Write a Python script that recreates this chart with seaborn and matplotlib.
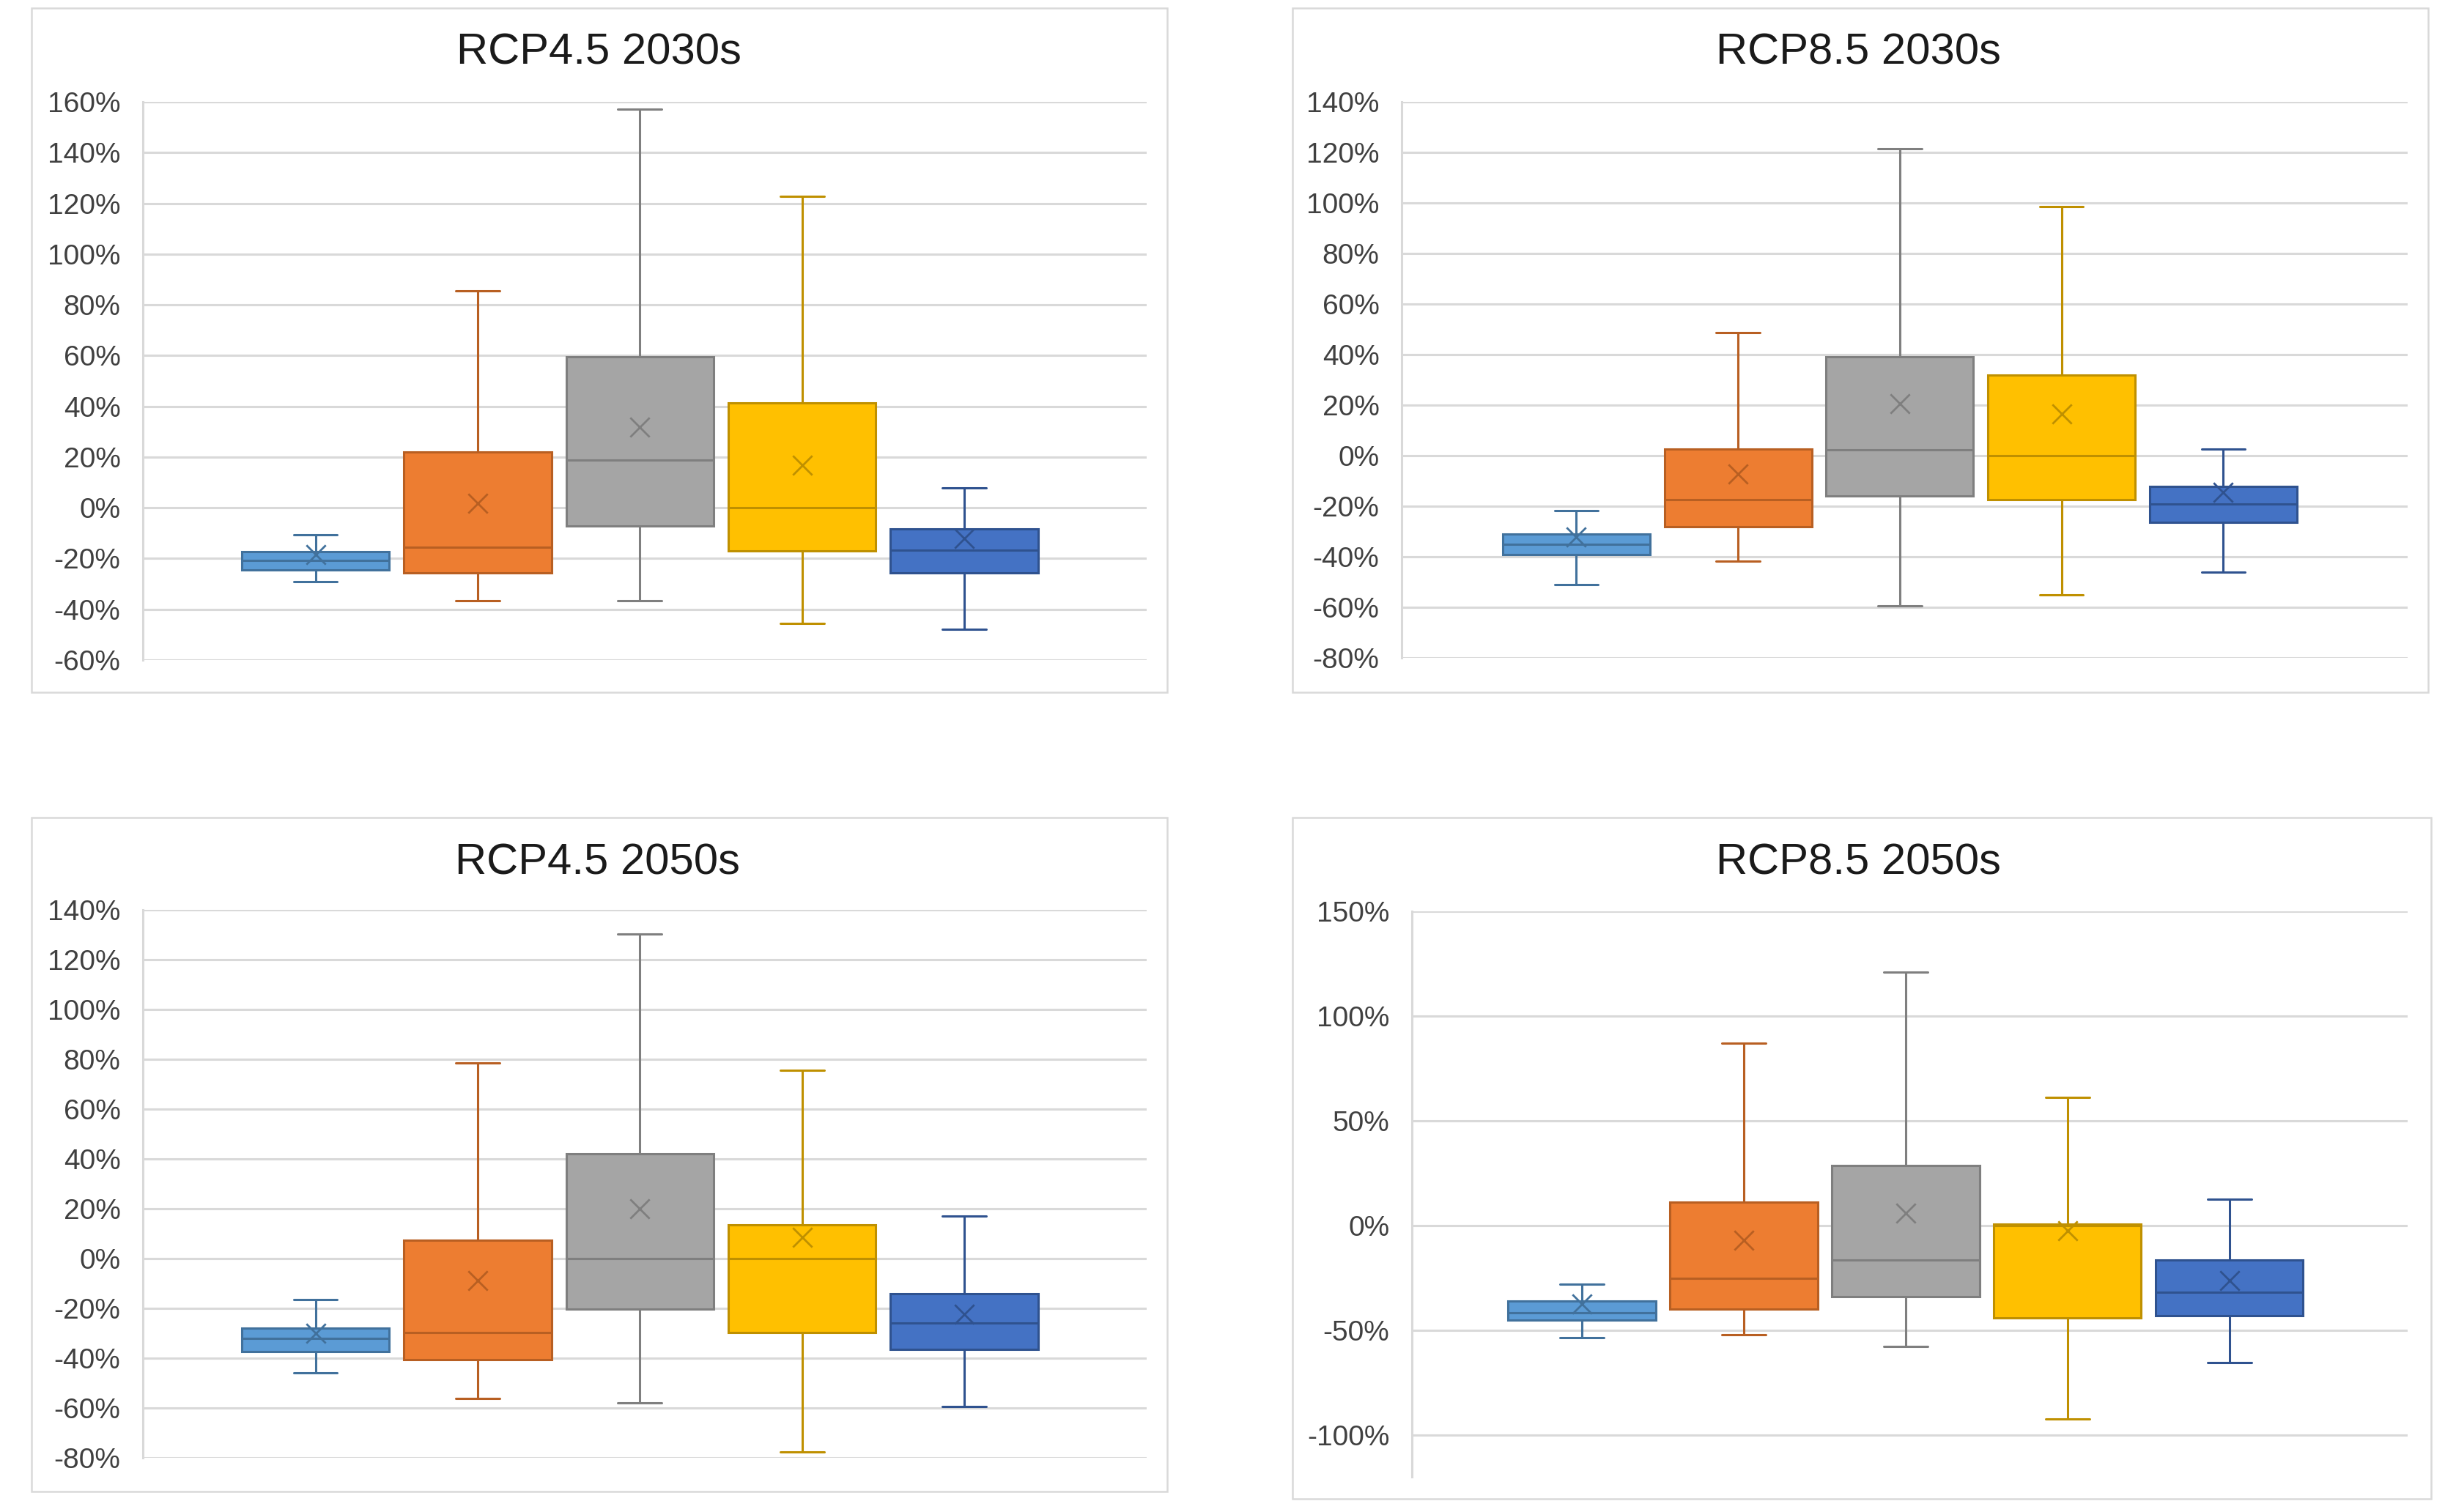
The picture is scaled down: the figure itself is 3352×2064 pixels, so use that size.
import matplotlib
matplotlib.use("Agg")
import matplotlib.pyplot as plt
import matplotlib.patches as mpatches
import numpy as np
import pandas as pd
import seaborn as sns

# ---------------- data (percent) ----------------
series = ["Series 1", "Series 2", "Series 3", "Series 4", "Series 5"]

titles = ["RCP4.5 2030s", "RCP8.5 2030s", "RCP4.5 2050s", "RCP8.5 2050s"]

# RCP4.5 2030s
p1_low = [-29.1, -36.7, -36.7, -45.5, -47.8]
p1_q1 = [-24.4, -25.5, -7.3, -16.9, -25.5]
p1_med = [-20.7, -15.5, 18.9, 0.0, -16.7]
p1_q3 = [-17.3, 22.0, 59.6, 41.3, -8.2]
p1_high = [-10.7, 85.6, 157.0, 122.9, 7.8]
p1_mean = [-18.5, 1.8, 31.8, 16.9, -12.2]

# RCP8.5 2030s
p2_low = [-50.9, -41.8, -59.5, -55.1, -46.0]
p2_q1 = [-39.1, -28.2, -16.0, -17.3, -26.4]
p2_med = [-35.1, -17.3, 2.2, 0.0, -19.1]
p2_q3 = [-30.9, 2.7, 39.1, 31.8, -12.2]
p2_high = [-21.8, 48.7, 121.5, 98.5, 2.7]
p2_mean = [-32.2, -7.3, 20.5, 16.4, -14.5]

# RCP4.5 2050s
p3_low = [-46.0, -56.2, -57.8, -77.5, -59.3]
p3_q1 = [-37.3, -40.5, -20.2, -29.6, -36.5]
p3_med = [-32.0, -29.6, 0.0, 0.0, -26.0]
p3_q3 = [-27.8, 7.5, 42.0, 13.5, -14.2]
p3_high = [-16.4, 78.5, 130.2, 75.6, 17.1]
p3_mean = [-30.0, -8.7, 20.0, 8.5, -22.4]

# RCP8.5 2050s
p4_low = [-53.5, -52.0, -57.8, -92.4, -65.6]
p4_q1 = [-45.1, -39.8, -34.0, -44.1, -43.0]
p4_med = [-41.5, -25.2, -16.6, 0.0, -31.8]
p4_q3 = [-35.9, 11.2, 28.6, 0.6, -16.6]
p4_high = [-27.9, 87.1, 121.0, 61.0, 12.5]
p4_mean = [-37.6, -7.1, 6.0, -2.6, -26.4]

y_ticks = [
    [-60, -40, -20, 0, 20, 40, 60, 80, 100, 120, 140, 160],
    [-80, -60, -40, -20, 0, 20, 40, 60, 80, 100, 120, 140],
    [-80, -60, -40, -20, 0, 20, 40, 60, 80, 100, 120, 140],
    [-100, -50, 0, 50, 100, 150],
]
y_limits = [(-60, 160), (-80, 140), (-80, 140), (-120, 150)]

# ---------------- styles ----------------
fill_colors = ["#5B9BD5", "#ED7D31", "#A5A5A5", "#FFC000", "#4472C4"]
edge_colors = ["#41719C", "#B85F22", "#7F7F7F", "#BF9000", "#2F528F"]
grid_color = "#D9D9D9"

panels = [
    (p1_low, p1_q1, p1_med, p1_q3, p1_high, p1_mean),
    (p2_low, p2_q1, p2_med, p2_q3, p2_high, p2_mean),
    (p3_low, p3_q1, p3_med, p3_q3, p3_high, p3_mean),
    (p4_low, p4_q1, p4_med, p4_q3, p4_high, p4_mean),
]

sns.set_theme(style="white")
plt.rcParams["font.family"] = ["Liberation Sans", "DejaVu Sans"]

W, H = 3352, 2064
fig = plt.figure(figsize=(W / 100, H / 100), dpi=100)

# axes rectangles in pixel coords: left, right, top, bottom
ax_px = [
    (195, 1565, 139, 901),
    (1913, 3286, 139, 898),
    (195, 1565, 1242, 1990),
    (1927, 3286, 1244, 2016),
]
x_limits = [(-1.064, 5.124), (-1.08, 5.14), (-1.064, 5.124), (-1.05, 5.10)]
frame_px = [
    (43, 1593, 11, 945),
    (1764, 3314, 11, 945),
    (43, 1593, 1116, 2036),
    (1764, 3318, 1116, 2046),
]
title_base_px = [88, 88, 1194, 1194]
title_x_px = [817, 2536, 815, 2536]

for i, (stats, title) in enumerate(zip(panels, titles)):
    fl, fr, ft, fb = frame_px[i]
    fig.patches.append(mpatches.Rectangle((fl / W, 1 - fb / H), (fr - fl) / W, (fb - ft) / H,
                                          transform=fig.transFigure, fill=False,
                                          edgecolor=grid_color, linewidth=1.8, zorder=0))
    fig.text(title_x_px[i] / W, 1 - title_base_px[i] / H, title, ha="center", va="baseline",
             fontsize=43, color="#1a1a1a")

    l, r, t, b = ax_px[i]
    ax = fig.add_axes([l / W, 1 - b / H, (r - l) / W, (b - t) / H])
    low, q1, med, q3, high, mean = stats

    for j, name in enumerate(series):
        df = pd.DataFrame({"series": [name] * 5,
                           "value": [low[j], q1[j], med[j], q3[j], high[j]]})
        sns.boxplot(data=df, x="series", y="value", order=series, ax=ax,
                    color=fill_colors[j], linecolor=edge_colors[j], saturation=1,
                    width=0.91, whis=(0, 100), linewidth=2.2, fliersize=0,
                    capwidths=0.27)

    mdf = pd.DataFrame({"series": series, "mean": mean})
    sns.stripplot(data=mdf, x="series", y="mean", order=series, hue="series",
                  palette=dict(zip(series, edge_colors)), jitter=False, marker="x",
                  size=19, linewidth=2.0, legend=False, ax=ax, zorder=5)

    ax.set_xlim(*x_limits[i])
    ax.set_ylim(*y_limits[i])
    ax.set_yticks(y_ticks[i])
    ax.set_yticklabels([f"{v}%" for v in y_ticks[i]], fontsize=28, color="#404040")
    ax.set_xticks([])
    ax.set_xlabel("")
    ax.set_ylabel("")
    ax.tick_params(axis="y", length=0, pad=22)
    ax.grid(axis="y", color=grid_color, linewidth=2.2)
    ax.set_axisbelow(True)
    for s in ["top", "right", "bottom"]:
        ax.spines[s].set_visible(False)
    ax.spines["left"].set_color(grid_color)
    ax.spines["left"].set_linewidth(2.2)
    ax.patch.set_alpha(0)

fig.savefig("out.png", dpi=100, facecolor="white")
